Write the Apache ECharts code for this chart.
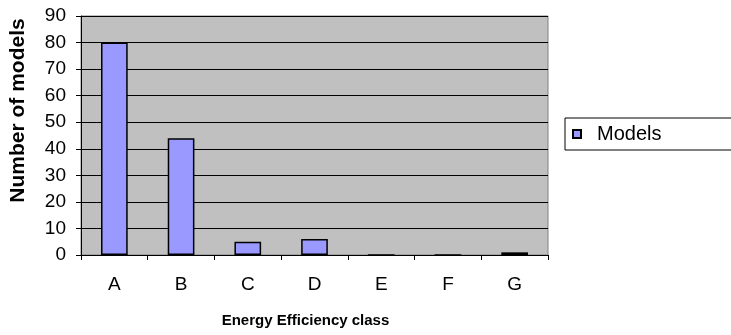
<!DOCTYPE html>
<html>
<head>
<meta charset="utf-8">
<script src="https://cdn.jsdelivr.net/npm/echarts@6/dist/echarts.min.js"></script>
<style>html,body{margin:0;padding:0;background:#fff}#c{width:731px;height:335px}</style>
</head>
<body>
<div id="c"></div>
<script>
const categories = ['A', 'B', 'C', 'D', 'E', 'F', 'G'];
const modelsValues = [80, 44, 5, 6, 0, 0, 1];
const seriesName = 'Models';
const xTitle = 'Energy Efficiency class';
const yTitle = 'Number of models';

const chart = echarts.init(document.getElementById('c'), null, {renderer: 'canvas'});
const font = 'Arial, "Liberation Sans", sans-serif';
chart.setOption({
  animation: false,
  backgroundColor: '#ffffff',
  grid: {
    left: 81, top: 16, right: 183, bottom: 80,
    outerBoundsMode: 'none',
    show: true, backgroundColor: '#c0c0c0', borderColor: '#808080', borderWidth: 1
  },
  legend: {
    data: [seriesName],
    left: 565, top: 118,
    orient: 'vertical',
    backgroundColor: '#ffffff',
    borderColor: '#000000', borderWidth: 1,
    borderRadius: 0,
    padding: [6, 100, 6, 7],
    itemWidth: 8, itemHeight: 8,
    icon: 'rect',
    textStyle: {fontFamily: font, fontSize: 20, color: '#000', padding: [0, 0, 0, 11]}
  },
  xAxis: {
    type: 'category',
    data: categories,
    name: xTitle,
    nameLocation: 'middle',
    nameGap: 58,
    nameTextStyle: {fontFamily: font, fontSize: 15, fontWeight: 'bold', color: '#000', padding: [0, 18, 0, 0]},
    axisLine: {show: true, lineStyle: {color: '#000', width: 1}},
    axisTick: {show: true, length: 5, lineStyle: {color: '#000'}},
    axisLabel: {fontFamily: font, fontSize: 19, color: '#000', margin: 20},
    splitLine: {show: false}
  },
  yAxis: {
    type: 'value',
    min: 0, max: 90, interval: 10,
    name: yTitle,
    nameLocation: 'middle',
    nameGap: 52,
    nameRotate: 90,
    nameTextStyle: {fontFamily: font, fontSize: 21, fontWeight: 'bold', color: '#000', padding: [0, 0, 0, 50]},
    axisLine: {show: true, lineStyle: {color: '#000', width: 1}},
    axisTick: {show: true, length: 5, inside: false, lineStyle: {color: '#000'}},
    axisLabel: {fontFamily: font, fontSize: 19, color: '#000', margin: 15},
    splitLine: {show: true, lineStyle: {color: '#000', width: 1}}
  },
  series: [{
    name: seriesName,
    type: 'bar',
    data: modelsValues,
    barWidth: '40%',
    itemStyle: {color: '#9999ff', borderColor: '#000', borderWidth: 1.5}
  }]
});
</script>
</body>
</html>
